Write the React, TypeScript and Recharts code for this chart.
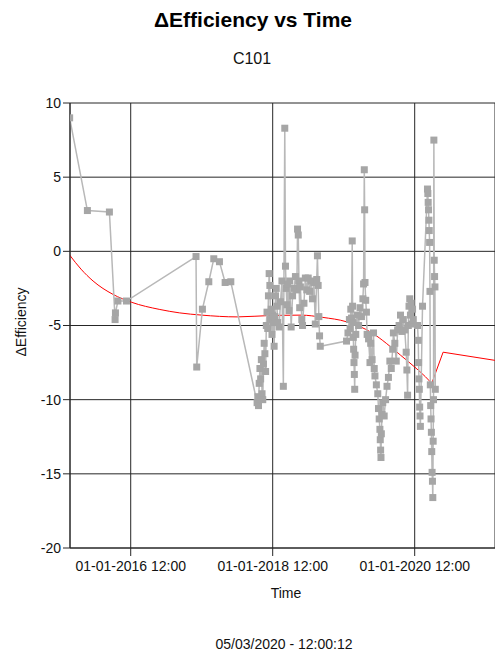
import React from 'react';
import { LineChart, Line, XAxis, YAxis, CartesianGrid } from 'recharts';

// gray series: decimal year / delta efficiency
const grayT = [
  2015.14, 2015.39, 2015.70, 2015.78, 2015.785, 2015.82, 2015.94, 2016.92, 2016.93, 2017.01, 2017.10, 2017.17, 2017.25, 2017.33, 2017.41,
  2017.78, 2017.79, 2017.80, 2017.81, 2017.82, 2017.83, 2017.84, 2017.85, 2017.86, 2017.87,
  2017.88, 2017.89, 2017.90, 2017.91, 2017.92, 2017.93, 2017.94, 2017.95, 2017.96, 2017.97,
  2017.98, 2017.99, 2018.00, 2018.01, 2018.02, 2018.03, 2018.04, 2018.05, 2018.06, 2018.07,
  2018.09, 2018.11, 2018.13, 2018.15, 2018.17, 2018.18, 2018.19, 2018.20, 2018.21, 2018.23,
  2018.24, 2018.26, 2018.28, 2018.30, 2018.32, 2018.34, 2018.35, 2018.36, 2018.37, 2018.38,
  2018.39, 2018.41, 2018.42, 2018.44, 2018.46, 2018.48, 2018.50, 2018.52, 2018.54, 2018.56,
  2018.58, 2018.60, 2018.62, 2018.63, 2018.64, 2018.65, 2018.66, 2018.67,
  2019.04, 2019.06, 2019.08, 2019.09, 2019.10, 2019.11, 2019.12, 2019.125, 2019.13, 2019.135,
  2019.14, 2019.145, 2019.15, 2019.155, 2019.16, 2019.17, 2019.19, 2019.21, 2019.23, 2019.25,
  2019.27, 2019.28, 2019.29, 2019.295, 2019.30, 2019.31, 2019.32, 2019.33,
  2019.35, 2019.37, 2019.38, 2019.40, 2019.42, 2019.43, 2019.44, 2019.46, 2019.48, 2019.49,
  2019.50, 2019.51, 2019.515, 2019.52, 2019.525, 2019.53, 2019.54, 2019.55, 2019.57, 2019.59,
  2019.61, 2019.63, 2019.65, 2019.67, 2019.69, 2019.70, 2019.72, 2019.74, 2019.76, 2019.78,
  2019.80, 2019.82, 2019.84, 2019.86, 2019.88, 2019.89, 2019.90, 2019.91, 2019.92, 2019.93,
  2019.94, 2019.95, 2019.96, 2019.97, 2019.98,
  2020.04, 2020.05, 2020.055, 2020.06, 2020.065, 2020.07, 2020.075, 2020.08, 2020.11, 2020.18,
  2020.185, 2020.19, 2020.195, 2020.20, 2020.205, 2020.21, 2020.215, 2020.22, 2020.225, 2020.23,
  2020.235, 2020.24, 2020.245, 2020.25, 2020.255, 2020.26, 2020.265, 2020.27, 2020.275, 2020.28,
  2020.285, 2020.29,
];
const grayV = [
  9.0, 2.75, 2.65, -4.6, -4.15, -3.35, -3.35, -0.35, -7.8, -3.9, -2.05, -0.5, -0.7, -2.1, -2.05,
  -10.2, -9.8, -10.4, -8.9, -7.9, -8.6, -7.3, -9.6, -10.0, -7.6,
  -6.2, -6.9, -8.1, -5.0, -4.1, -5.2, -3.0, -1.5, -2.3, -4.6,
  -3.9, -5.6, -4.3, -4.8, -6.4, -4.4, -3.0, -2.5, -3.7, -4.8,
  -5.1, -3.4, -2.0, -9.1, 8.3, -1.0, -2.5, -3.6, -2.2, -4.0,
  -2.0, -5.1, -3.0, -2.5, -1.7, -2.6, 1.5, 1.1, -2.0, -3.8,
  -2.4, -4.6, -5.0, -3.5, -1.8, -2.6, -1.8, -2.7, -2.0, -3.2,
  -2.1, -4.9, -1.9, -0.3, -2.3, -4.4, -5.7, -6.4,
  -6.05, -5.5, -4.6, -5.2, -3.9, -4.5, 0.7, -3.7, -4.8, -5.8,
  -6.6, -7.5, -8.3, -9.3, -7.0, -5.6, -4.3, -5.0, -3.8, -4.4,
  -3.2, -2.2, 5.5, 2.8, -2.1, -3.3, -4.1, -5.6,
  -5.9, -7.5, -6.2, -7.3, -5.5, -7.9, -8.4, -9.0, -9.6, -10.6,
  -11.3, -12.0, -12.7, -13.4, -13.9, -12.3, -11.0, -10.2, -11.1, -10.0,
  -9.1, -8.5, -7.4, -7.9, -6.6, -5.5, -6.2, -7.4, -5.3, -5.0,
  -4.3, -5.4, -4.6, -5.3, -6.8, -8.0, -9.7, -5.0, -3.7, -3.2,
  -4.3, -3.5, -4.9, -3.9, -4.6,
  -5.0, -6.0, -7.5, -8.6, -9.3, -10.5, -11.1, -11.8, -3.7, 4.2,
  3.9, 3.3, 2.8, 2.1, 1.4, 0.6, -2.7, -9.0, -10.4, -11.3,
  -12.2, -13.5, -14.9, -15.5, -16.6, -12.8, -10.0, 7.5, -0.6, -1.7,
  -2.4, -9.3,
];

// red trend line (smooth part, then the jump)
const redT = [2015.14, 2015.30, 2015.47, 2015.75, 2016.01, 2016.41, 2016.69, 2017.0, 2017.5, 2018.0, 2018.4, 2018.7, 2019.04, 2019.4, 2019.6, 2019.8, 2020.0, 2020.15, 2020.24];
const redV = [-0.25, -1.2, -2.0, -2.9, -3.43, -3.92, -4.15, -4.3, -4.42, -4.32, -4.3, -4.45, -4.75, -5.5, -6.2, -7.0, -7.8, -8.45, -8.9];
const jumpT = [2020.24, 2020.40, 2021.13];
const jumpV = [-8.9, -6.8, -7.35];

const xTicks = [2016, 2018, 2020];
const yTicks = [-20, -15, -10, -5, 0, 5, 10];

const grayData = grayT.slice(0, Math.min(grayT.length, grayV.length)).map((t, i) => ({ t, v: grayV[i] }));
const redData = redT.map((t, i) => ({ t, v: redV[i] }));
const jumpData = jumpT.map((t, i) => ({ t, v: jumpV[i] }));

const font = '"Liberation Sans", Arial, sans-serif';

const Square = (props: any) => {
  const { cx, cy, index } = props;
  if (cx == null || cy == null) return null;
  return <rect key={`sq-${index}`} x={cx - 3.5} y={cy - 3.5} width={7} height={7} fill="#a6a6a6" />;
};

export default function App() {
  return (
    <div style={{ position: 'absolute', left: 0, top: 0, width: 495, height: 652, background: '#fff', fontFamily: font, color: '#111' }}>
      <div style={{ position: 'absolute', left: 253, top: 8, transform: 'translateX(-50%)', whiteSpace: 'nowrap', fontSize: 21, fontWeight: 'bold', color: '#000' }}>
        ΔEfficiency vs Time
      </div>
      <div style={{ position: 'absolute', left: 252, top: 50, transform: 'translateX(-50%)', whiteSpace: 'nowrap', fontSize: 16 }}>
        C101
      </div>
      <div style={{ position: 'absolute', left: 21, top: 322, transform: 'translate(-50%, -50%) rotate(-90deg)', whiteSpace: 'nowrap', fontSize: 14 }}>
        ΔEfficiency
      </div>
      <div style={{ position: 'absolute', left: 286, top: 585, transform: 'translateX(-50%)', whiteSpace: 'nowrap', fontSize: 14 }}>
        Time
      </div>
      <div style={{ position: 'absolute', left: 284, top: 636, transform: 'translateX(-50%)', whiteSpace: 'nowrap', fontSize: 14 }}>
        05/03/2020 - 12:00:12
      </div>
      <LineChart width={495} height={652} margin={{ top: 103, right: 0, bottom: 74, left: 0 }}>
        <CartesianGrid stroke="#262626" strokeWidth={1} />
        <XAxis
          dataKey="t"
          type="number"
          domain={[2015.145, 2021.131]}
          allowDataOverflow
          ticks={xTicks}
          tickFormatter={(v: number) => `01-01-${Math.round(v)} 12:00`}
          height={30}
          tickSize={8}
          tickMargin={5}
          stroke="#262626"
          tick={{ fontSize: 14, fill: '#111', fontFamily: font }}
        />
        <YAxis
          type="number"
          domain={[-20, 10]}
          ticks={yTicks}
          width={70}
          tickSize={7}
          tickMargin={2}
          stroke="#262626"
          tick={{ fontSize: 14, fill: '#111', fontFamily: font }}
        />
        <Line data={redData} dataKey="v" type="monotone" stroke="#ff0000" strokeWidth={1} dot={false} isAnimationActive={false} />
        <Line data={jumpData} dataKey="v" type="linear" stroke="#ff0000" strokeWidth={1} dot={false} isAnimationActive={false} />
        <Line data={grayData} dataKey="v" type="linear" stroke="#b8b8b8" strokeWidth={1.5} dot={Square} isAnimationActive={false} />
      </LineChart>
    </div>
  );
}
